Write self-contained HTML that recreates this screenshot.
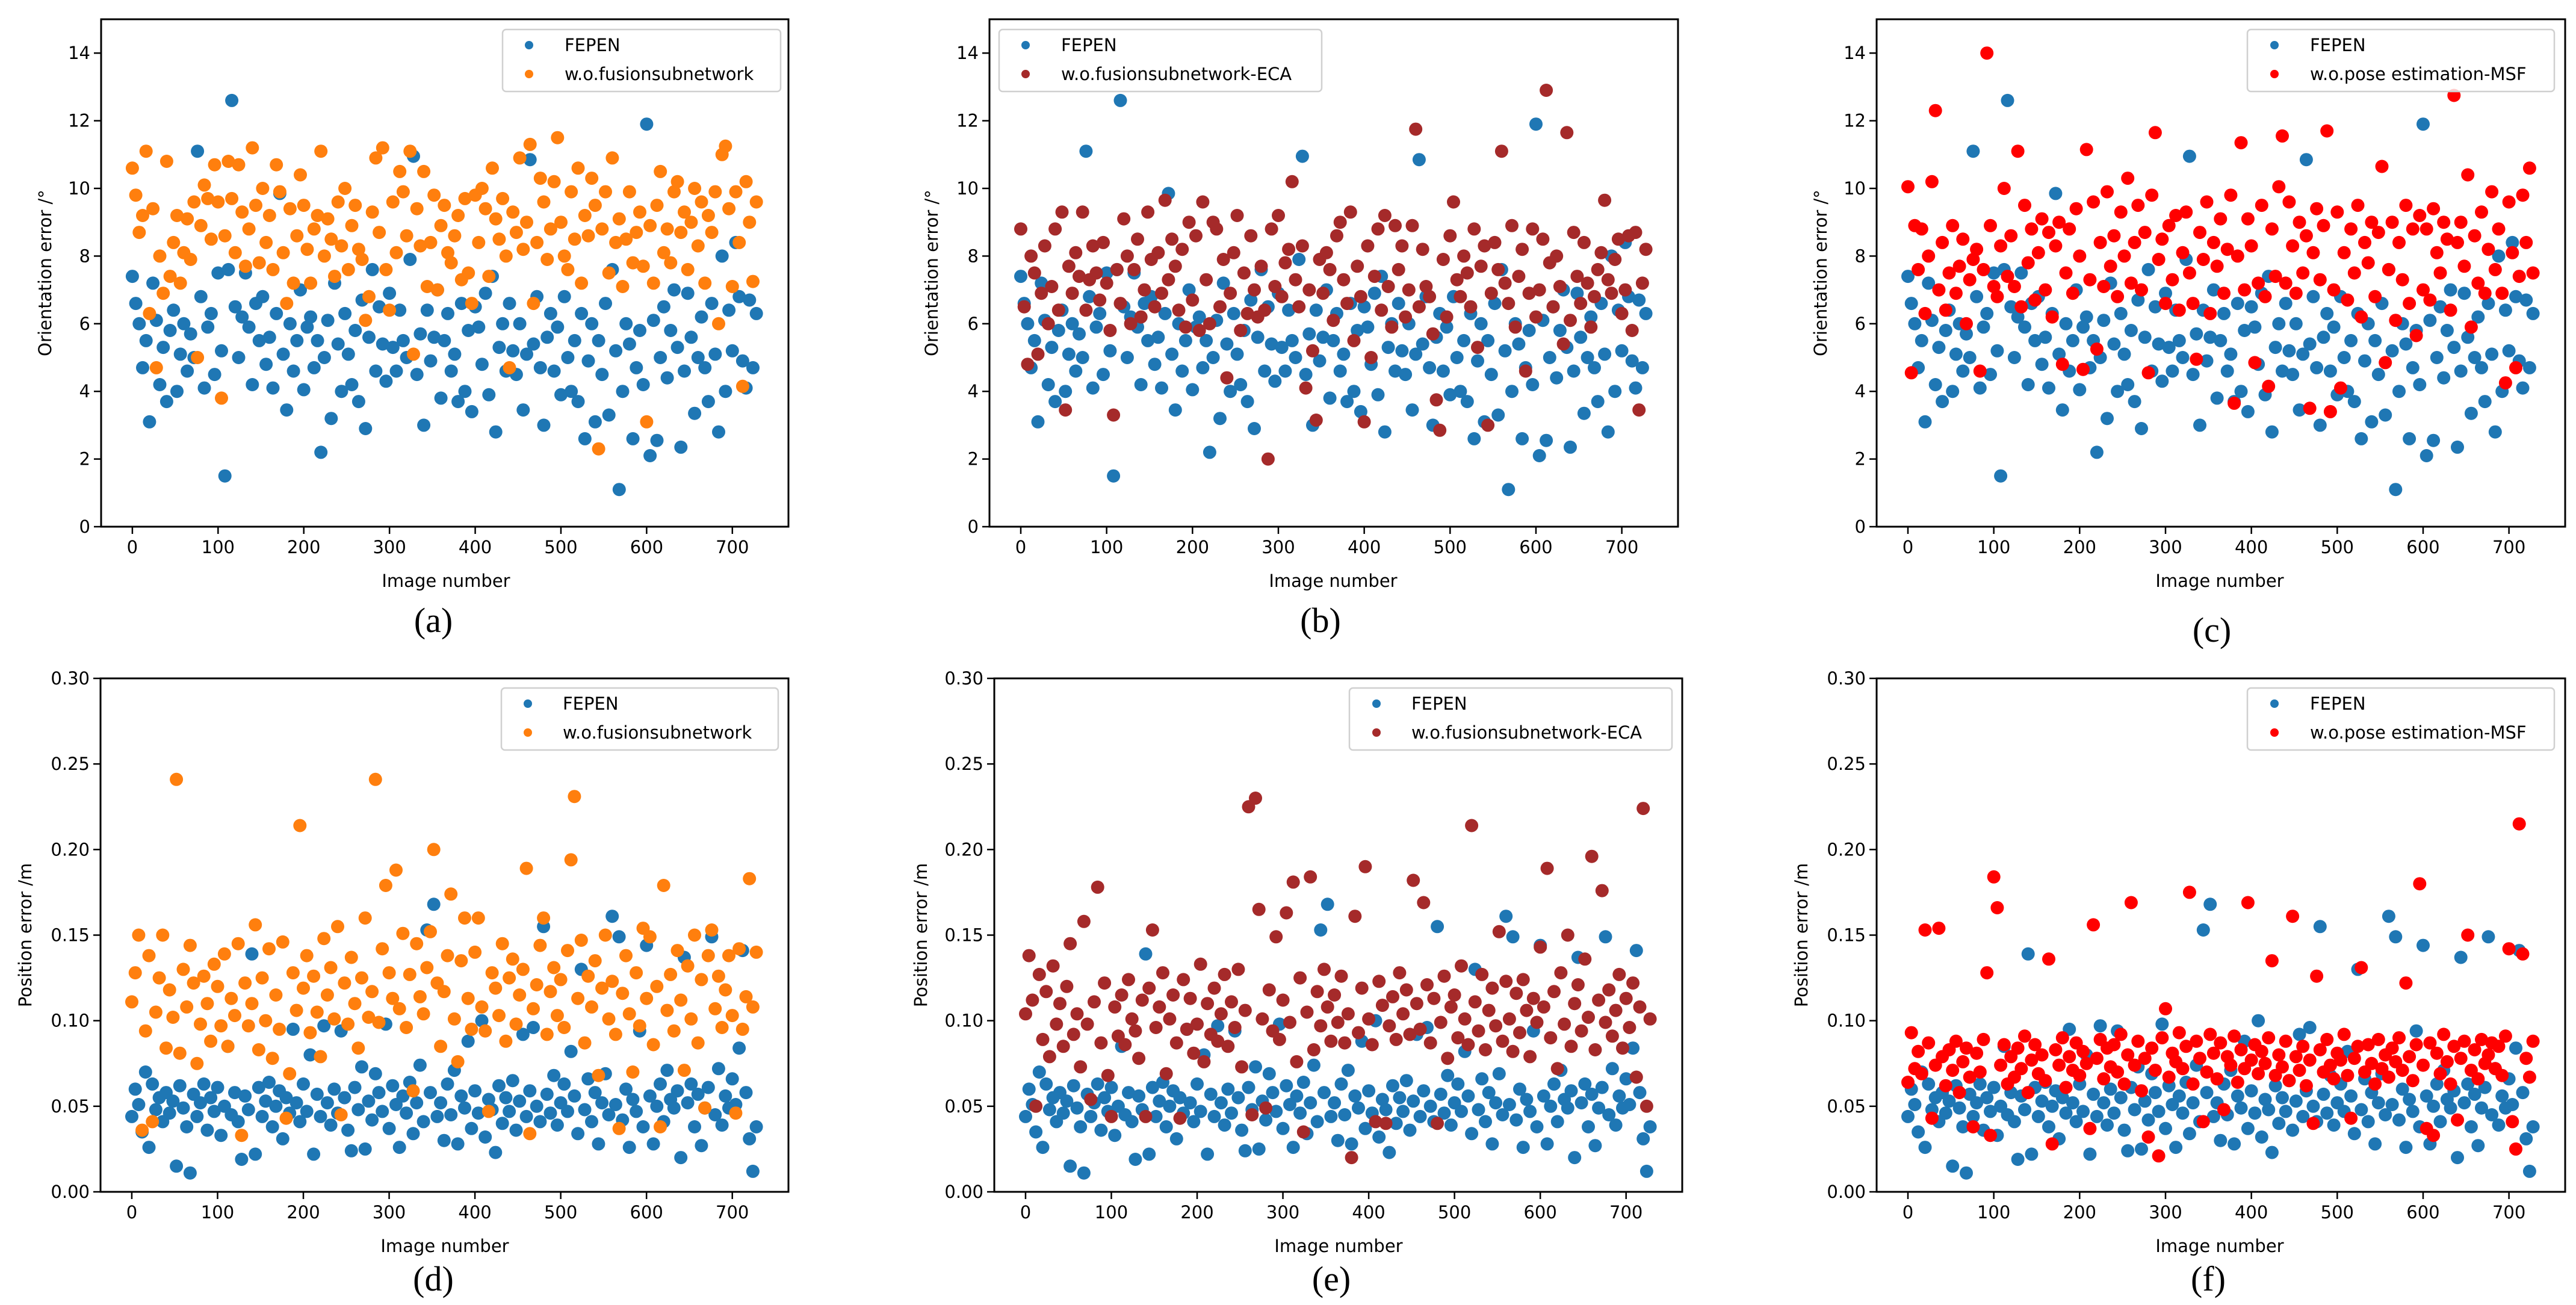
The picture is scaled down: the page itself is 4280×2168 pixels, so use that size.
<!DOCTYPE html>
<html><head><meta charset="utf-8"><style>
html,body{margin:0;padding:0;background:#fff;}
svg{display:block;}
text{font-family:"DejaVu Sans","Liberation Sans",sans-serif;fill:#000;}
.cap{font-family:"Liberation Serif",serif;}
</style></head><body>
<svg id="fig" width="4280" height="2168" viewBox="0 0 4280 2168" xmlns="http://www.w3.org/2000/svg"></svg>
<script>
// Image numbers sampled every 4th image (0..728)
const STEP = 4;
const xTicks = [0,100,200,300,400,500,600,700];
const oriTicks = [0,2,4,6,8,10,12,14];
const posTicks = [0,0.05,0.10,0.15,0.20,0.25,0.30];
const posTickLabels = ["0.00","0.05","0.10","0.15","0.20","0.25","0.30"];

const oriFepen = [7.4,6.6,6.0,4.7,5.5,3.1,7.2,6.1,4.2,5.3,
3.7,5.8,6.4,4.0,5.1,6.0,4.6,5.7,5.0,11.1,
6.8,4.1,5.9,6.3,4.5,7.5,5.2,1.5,7.6,12.6,
6.5,5.0,6.2,7.5,5.9,4.2,6.6,5.5,6.8,4.8,
5.6,4.1,6.3,9.85,5.1,3.45,6.0,4.6,5.5,7.0,
4.05,5.9,6.2,4.7,5.5,2.2,5.0,6.1,3.2,7.2,
5.4,4.0,6.3,5.1,4.2,5.8,3.7,6.7,2.9,5.6,
7.6,4.6,6.5,5.4,4.3,6.9,5.3,4.6,6.4,5.5,
5.0,7.9,10.95,4.5,5.7,3.0,6.4,4.9,5.6,7.0,
3.8,5.5,6.3,4.6,5.1,3.7,6.6,4.0,5.8,3.4,
6.5,5.9,4.8,6.9,3.9,7.4,2.8,5.3,6.0,4.6,
6.6,5.2,4.5,6.0,3.45,5.1,10.85,5.4,6.8,4.7,
3.0,5.6,6.3,4.6,5.9,3.9,6.8,5.0,4.0,5.5,
3.7,6.3,2.6,4.9,6.0,3.1,5.5,4.5,6.6,3.3,
7.6,5.2,1.1,4.0,6.0,5.4,2.6,4.7,5.8,4.2,
11.9,2.1,6.1,2.55,5.0,6.5,4.4,5.8,7.0,5.3,
2.35,4.6,6.9,5.6,3.35,5.0,6.2,4.7,3.7,6.6,
5.1,2.8,8.0,4.0,6.4,5.2,8.4,6.8,4.9,4.1,
6.7,4.7,6.3];

const oriFusion = [10.6,9.8,8.7,9.2,11.1,6.3,9.4,4.7,8.0,6.9,
10.8,7.4,8.4,9.2,7.2,8.1,9.1,7.9,9.6,5.0,
8.9,10.1,9.7,8.5,10.7,9.6,3.8,8.6,10.8,9.7,
8.1,10.7,9.3,7.7,8.8,11.2,9.5,7.8,10.0,8.4,
9.2,7.6,10.7,9.9,8.1,6.6,9.4,7.2,8.6,10.4,
9.5,8.2,7.2,8.8,9.2,11.1,8.0,9.1,8.5,7.4,
9.6,8.3,10.0,7.6,8.9,9.5,8.2,7.9,6.1,6.8,
9.3,10.9,8.7,11.2,7.6,6.4,9.6,8.1,10.5,9.9,
8.6,11.1,5.1,9.4,8.3,10.5,7.1,8.4,9.8,7.0,
8.9,9.5,8.1,7.8,8.6,9.2,7.3,9.7,7.5,6.6,
9.8,8.4,10.0,9.4,7.4,10.6,9.1,8.5,9.7,8.0,
4.7,9.3,8.7,10.9,8.2,9.0,11.3,6.6,8.4,10.3,
9.6,7.9,8.8,10.2,11.5,9.0,8.0,7.6,9.9,8.5,
10.6,7.2,9.2,8.6,10.3,9.5,2.3,8.8,9.9,7.5,
10.9,8.4,9.1,7.1,8.5,9.9,7.8,8.7,9.3,7.7,
3.1,8.9,7.2,9.5,10.5,8.1,8.8,7.8,9.9,10.2,
8.7,9.3,7.6,9.0,10.0,8.3,9.6,7.2,9.2,8.7,
9.9,6.0,11.0,11.25,9.4,7.1,9.9,8.4,4.15,10.2,
9.0,7.25,9.6];

const oriECA = [8.8,6.5,4.8,8.0,7.5,5.1,6.9,8.3,6.0,7.1,
8.8,6.4,9.3,3.45,7.7,6.9,8.1,7.4,9.3,6.4,
7.3,8.3,7.5,6.7,8.4,7.2,5.8,3.3,7.6,6.6,
9.1,8.0,6.0,7.6,8.5,6.2,7.0,9.3,7.9,6.5,
8.1,6.9,9.65,7.3,8.5,7.7,6.4,8.2,5.9,9.0,
6.7,8.6,5.8,9.6,7.3,6.0,9.0,8.8,6.5,7.9,
4.4,6.9,8.1,9.2,5.8,7.5,6.3,8.6,7.0,6.2,
7.7,6.4,2.0,8.8,7.1,9.2,6.8,7.8,8.2,10.2,
7.3,6.5,8.3,4.1,7.0,5.2,3.15,7.9,6.9,8.1,
7.6,6.1,8.6,9.0,7.3,6.6,9.3,5.5,7.7,6.8,
3.1,8.3,5.0,7.4,8.8,6.4,9.2,7.1,5.9,8.9,
7.6,8.3,6.2,7.0,8.9,11.75,6.5,8.2,7.1,6.8,
5.7,3.75,2.85,7.9,6.2,8.6,9.6,7.3,6.8,8.0,
7.5,6.5,8.8,5.3,7.7,8.3,3.0,6.9,8.4,7.6,
11.1,7.2,6.6,8.9,5.9,7.4,8.2,4.6,6.9,8.8,
6.2,7.0,8.5,12.9,7.8,6.5,8.0,7.1,5.4,11.65,
6.1,8.7,7.4,6.6,8.4,7.2,5.9,6.8,7.6,8.1,
9.65,7.3,6.9,7.9,8.5,6.3,7.0,8.6,5.8,8.7,
3.45,7.2,8.2];

const oriMSF = [10.05,4.55,8.9,7.6,8.8,6.3,8.0,10.2,12.3,7.0,
8.4,6.4,7.5,8.9,6.9,7.7,8.5,6.0,7.3,7.9,
8.2,4.6,7.6,14.0,8.9,7.1,6.8,8.3,10.0,7.4,
8.6,7.1,11.1,6.5,9.5,7.8,8.8,6.7,8.1,9.1,
7.0,8.7,6.2,8.3,9.0,4.8,7.5,8.8,6.9,9.4,
8.0,4.65,11.15,7.3,9.6,5.25,8.4,7.1,9.9,7.7,
8.6,6.8,9.3,8.0,10.3,7.2,8.4,9.5,7.0,8.7,
4.55,9.8,11.65,7.9,8.5,6.6,8.9,7.3,9.2,6.4,
8.1,9.3,7.5,6.6,4.95,8.7,7.9,9.6,6.3,8.4,
7.7,9.1,6.9,8.2,9.8,3.65,8.0,11.35,7.0,9.1,
8.3,4.85,7.2,9.5,6.8,4.15,8.8,7.4,10.05,11.55,
7.2,9.6,8.3,6.9,9.0,7.5,8.6,3.5,8.1,9.4,
7.3,8.9,11.7,3.4,7.0,9.3,4.1,8.1,6.7,8.8,
7.5,9.5,6.2,8.4,7.8,9.0,6.8,8.7,10.65,4.85,
7.6,9.0,6.1,8.4,7.3,9.5,6.6,8.8,5.65,9.2,
7.0,8.8,6.7,9.4,8.1,7.5,9.0,8.5,6.4,12.75,
8.4,9.0,7.7,10.4,5.9,8.6,7.2,9.3,6.9,8.2,
9.9,7.6,8.8,6.9,4.25,9.6,8.1,4.7,7.4,9.8,
8.4,10.6,7.5];

const posFepen = [0.044,0.060,0.051,0.035,0.070,0.026,0.063,0.048,0.055,0.041,
0.058,0.046,0.053,0.015,0.062,0.049,0.038,0.011,0.057,0.044,
0.052,0.063,0.036,0.055,0.047,0.061,0.033,0.050,0.085,0.045,
0.058,0.041,0.019,0.056,0.048,0.139,0.022,0.061,0.044,0.053,
0.064,0.038,0.050,0.059,0.031,0.055,0.046,0.095,0.052,0.041,
0.063,0.047,0.080,0.022,0.057,0.044,0.097,0.052,0.039,0.060,
0.046,0.094,0.055,0.036,0.024,0.061,0.048,0.073,0.025,0.053,
0.042,0.069,0.058,0.047,0.098,0.037,0.062,0.051,0.026,0.056,
0.046,0.064,0.034,0.052,0.074,0.041,0.153,0.058,0.168,0.044,
0.052,0.030,0.063,0.045,0.071,0.028,0.056,0.049,0.088,0.037,
0.059,0.046,0.100,0.032,0.054,0.048,0.023,0.062,0.040,0.055,
0.047,0.065,0.036,0.053,0.092,0.044,0.059,0.096,0.050,0.041,
0.155,0.057,0.046,0.068,0.039,0.052,0.063,0.047,0.082,0.056,
0.034,0.130,0.048,0.066,0.041,0.058,0.028,0.052,0.069,0.045,
0.161,0.051,0.149,0.042,0.060,0.026,0.054,0.047,0.094,0.038,
0.144,0.056,0.028,0.050,0.063,0.041,0.071,0.054,0.049,0.059,
0.020,0.137,0.052,0.063,0.038,0.057,0.027,0.049,0.061,0.149,
0.045,0.072,0.039,0.056,0.049,0.066,0.051,0.084,0.141,0.058,
0.031,0.012,0.038];

const posFusion = [0.111,0.128,0.150,0.036,0.094,0.138,0.041,0.105,0.125,0.150,
0.084,0.118,0.102,0.241,0.081,0.130,0.108,0.144,0.122,0.075,
0.098,0.126,0.110,0.088,0.133,0.120,0.097,0.139,0.085,0.113,
0.103,0.145,0.033,0.122,0.097,0.110,0.156,0.083,0.125,0.100,
0.142,0.078,0.115,0.095,0.146,0.043,0.069,0.128,0.106,0.214,
0.119,0.138,0.093,0.126,0.105,0.079,0.148,0.115,0.131,0.101,
0.155,0.045,0.122,0.098,0.137,0.110,0.084,0.125,0.160,0.102,
0.117,0.241,0.099,0.142,0.179,0.128,0.113,0.188,0.107,0.151,
0.096,0.127,0.059,0.145,0.114,0.104,0.131,0.152,0.200,0.122,
0.085,0.117,0.138,0.174,0.101,0.076,0.135,0.160,0.113,0.095,
0.140,0.160,0.108,0.094,0.047,0.128,0.119,0.103,0.145,0.088,
0.125,0.136,0.098,0.115,0.130,0.189,0.034,0.107,0.121,0.144,
0.160,0.092,0.117,0.131,0.103,0.124,0.096,0.141,0.194,0.231,
0.113,0.147,0.087,0.126,0.108,0.135,0.068,0.119,0.150,0.101,
0.123,0.092,0.037,0.116,0.138,0.104,0.070,0.128,0.097,0.154,
0.113,0.149,0.086,0.120,0.038,0.179,0.106,0.127,0.094,0.141,
0.112,0.071,0.132,0.101,0.150,0.087,0.124,0.049,0.138,0.153,
0.107,0.126,0.096,0.118,0.138,0.103,0.046,0.142,0.095,0.114,
0.183,0.108,0.140];

const posECA = [0.104,0.138,0.112,0.050,0.127,0.089,0.117,0.079,0.132,0.098,
0.110,0.085,0.120,0.145,0.092,0.104,0.073,0.158,0.098,0.054,
0.111,0.178,0.087,0.122,0.068,0.044,0.108,0.091,0.115,0.086,
0.124,0.101,0.094,0.078,0.112,0.044,0.119,0.153,0.096,0.108,
0.128,0.069,0.101,0.115,0.087,0.043,0.124,0.095,0.113,0.081,
0.098,0.133,0.076,0.110,0.092,0.119,0.088,0.104,0.127,0.085,
0.111,0.096,0.130,0.073,0.106,0.225,0.045,0.230,0.165,0.101,
0.049,0.118,0.094,0.149,0.089,0.112,0.163,0.099,0.181,0.076,
0.125,0.035,0.105,0.184,0.083,0.117,0.097,0.130,0.108,0.088,
0.115,0.099,0.126,0.087,0.104,0.020,0.161,0.093,0.119,0.190,
0.101,0.086,0.041,0.123,0.109,0.040,0.097,0.114,0.089,0.128,
0.104,0.118,0.092,0.182,0.110,0.095,0.169,0.121,0.087,0.113,
0.040,0.099,0.126,0.078,0.108,0.115,0.090,0.132,0.101,0.086,
0.214,0.111,0.094,0.127,0.083,0.106,0.119,0.097,0.152,0.088,
0.123,0.101,0.082,0.116,0.093,0.124,0.106,0.079,0.113,0.099,
0.143,0.108,0.189,0.090,0.117,0.072,0.128,0.098,0.150,0.085,
0.110,0.121,0.094,0.136,0.102,0.196,0.083,0.112,0.176,0.099,
0.118,0.091,0.106,0.127,0.084,0.113,0.096,0.122,0.067,0.108,
0.224,0.050,0.101];

const posMSF = [0.064,0.093,0.072,0.082,0.069,0.153,0.087,0.043,0.074,0.154,
0.079,0.062,0.083,0.071,0.088,0.058,0.076,0.084,0.067,0.038,
0.081,0.070,0.089,0.128,0.033,0.184,0.166,0.074,0.086,0.063,
0.079,0.067,0.084,0.072,0.091,0.058,0.077,0.086,0.069,0.080,
0.065,0.136,0.028,0.083,0.074,0.090,0.061,0.079,0.071,0.087,
0.068,0.082,0.075,0.037,0.156,0.078,0.089,0.066,0.084,0.073,
0.086,0.070,0.092,0.063,0.080,0.169,0.074,0.088,0.059,0.078,
0.032,0.084,0.071,0.021,0.090,0.107,0.067,0.081,0.076,0.093,
0.072,0.085,0.175,0.063,0.088,0.078,0.041,0.070,0.092,0.081,
0.066,0.087,0.048,0.079,0.074,0.091,0.064,0.083,0.072,0.169,
0.077,0.086,0.069,0.082,0.075,0.090,0.135,0.068,0.080,0.073,
0.088,0.065,0.161,0.079,0.071,0.085,0.062,0.077,0.040,0.126,
0.083,0.070,0.089,0.074,0.066,0.081,0.077,0.092,0.068,0.043,
0.078,0.085,0.131,0.070,0.086,0.075,0.063,0.089,0.072,0.080,
0.067,0.084,0.076,0.090,0.071,0.122,0.079,0.065,0.086,0.180,
0.074,0.037,0.087,0.033,0.081,0.069,0.092,0.076,0.063,0.085,
0.042,0.078,0.088,0.150,0.071,0.083,0.066,0.089,0.075,0.080,
0.087,0.072,0.085,0.068,0.091,0.142,0.041,0.025,0.215,0.139,
0.078,0.067,0.088];

const NS = "http://www.w3.org/2000/svg";
const svg = document.getElementById('fig');
function mk(tag, attrs, parent){
  const e = document.createElementNS(NS, tag);
  for (const k in attrs) e.setAttribute(k, attrs[k]);
  (parent||svg).appendChild(e);
  return e;
}
const BLUE="#1f77b4";
const panels = [
 {id:'a', x0:168,x1:1310,y0:32,y1:875, kind:'ori', other:oriFusion, otherName:'w.o.fusionsubnetwork', color:'#ff7f0e',
  leg:[835,49,1297,152], legMarkX:879, legTextX:938, ylabX:75, xlabX:741, capX:720, capY:1050},
 {id:'b', x0:1644,x1:2788,y0:32,y1:875, kind:'ori', other:oriECA, otherName:'w.o.fusionsubnetwork-ECA', color:'#a52a2a',
  leg:[1660,49,2196,152], legMarkX:1704, legTextX:1763, ylabX:1548, xlabX:2215, capX:2194, capY:1050},
 {id:'c', x0:3118,x1:4262,y0:32,y1:875, kind:'ori', other:oriMSF, otherName:'w.o.pose estimation-MSF', color:'#ff0000',
  leg:[3734,49,4244,152], legMarkX:3779, legTextX:3838, ylabX:3025, xlabX:3688, capX:3675, capY:1066},
 {id:'d', x0:167,x1:1310,y0:1127,y1:1980, kind:'pos', other:posFusion, otherName:'w.o.fusionsubnetwork', color:'#ff7f0e',
  leg:[833,1143,1293,1246], legMarkX:877, legTextX:935, ylabX:42, xlabX:739, capX:720, capY:2144},
 {id:'e', x0:1652,x1:2795,y0:1127,y1:1980, kind:'pos', other:posECA, otherName:'w.o.fusionsubnetwork-ECA', color:'#a52a2a',
  leg:[2242,1143,2778,1246], legMarkX:2287, legTextX:2345, ylabX:1530, xlabX:2224, capX:2212, capY:2144},
 {id:'f', x0:3118,x1:4262,y0:1127,y1:1980, kind:'pos', other:posMSF, otherName:'w.o.pose estimation-MSF', color:'#ff0000',
  leg:[3734,1143,4244,1246], legMarkX:3779, legTextX:3838, ylabX:2993, xlabX:3688, capX:3669, capY:2144}
];
const XMIN=-36.45, XMAX=765.45;
panels.forEach(p=>{
  const g = mk('g',{});
  
  
  const ymax = p.kind==='ori'?15:0.30;
  const xs = v => p.x0 + (v-XMIN)/(XMAX-XMIN)*(p.x1-p.x0);
  const ys = v => p.y1 - v/ymax*(p.y1-p.y0);
  const fep = p.kind==='ori'?oriFepen:posFepen;
  const ticks = p.kind==='ori'?oriTicks:posTicks;
  const tl = p.kind==='ori'?oriTicks.map(String):posTickLabels;
  const clip = mk('clipPath',{id:'clip'+p.id},g);
  mk('rect',{x:p.x0,y:p.y0,width:p.x1-p.x0,height:p.y1-p.y0},clip);
  const pts = mk('g',{'clip-path':'url(#clip'+p.id+')'},g);
  
  
  [[fep,BLUE,'fepen'],[p.other,p.color,'ablation']].forEach(([arr,col,nm])=>{
    const sg = mk('g',{fill:col},pts);
    
    
    arr.forEach((v,i)=>{
      const c = mk('circle',{cx:xs(i*STEP).toFixed(1),cy:ys(v).toFixed(1),r:11},sg);
      
      
    });
  });
  const frame = mk('rect',{x:p.x0,y:p.y0,width:p.x1-p.x0,height:p.y1-p.y0,fill:'none',stroke:'#000','stroke-width':3},g);
  
  
  xTicks.forEach(t=>{
    const x=xs(t);
    mk('line',{x1:x,x2:x,y1:p.y1,y2:p.y1+12,stroke:'#000','stroke-width':2.5},g);
    const tx = mk('text',{x:x,y:p.y1+44,'font-size':29,'text-anchor':'middle'},g);
    tx.textContent=String(t);
    
    
  });
  ticks.forEach((t,i)=>{
    const y=ys(t);
    mk('line',{x1:p.x0-12,x2:p.x0,y1:y,y2:y,stroke:'#000','stroke-width':2.5},g);
    const ty = mk('text',{x:p.x0-18,y:y+10,'font-size':29,'text-anchor':'end'},g);
    ty.textContent=tl[i];
    
    
  });
  const xl = mk('text',{x:p.xlabX,y:p.y1+100,'font-size':29,'text-anchor':'middle'},g);
  xl.textContent='Image number';
  
  
  const cy=(p.y0+p.y1)/2;
  const yl = mk('text',{x:0,y:0,'font-size':29,'text-anchor':'middle',transform:`translate(${p.ylabX+10},${cy}) rotate(-90)`},g);
  yl.textContent = p.kind==='ori'?'Orientation error /°':'Position error /m';
  
  
  const L=p.leg;
  const lg = mk('g',{},g);
  
  
  mk('rect',{x:L[0],y:L[1],width:L[2]-L[0],height:L[3]-L[1],rx:6,fill:'#fff','fill-opacity':0.8,stroke:'#d0d0d0','stroke-width':2.5},lg);
  [[BLUE,'FEPEN',L[1]+26],[p.color,p.otherName,L[1]+74]].forEach(([col,label,yy],k)=>{
    const m = mk('circle',{cx:p.legMarkX,cy:yy,r:7,fill:col},lg);
    
    
    const t = mk('text',{x:p.legTextX,y:yy+10,'font-size':29},lg);
    t.textContent=label;
    
    
  });
  const cap = mk('text',{x:p.capX,y:p.capY,'font-size':58,'text-anchor':'middle','class':'cap'},g);
  cap.textContent='('+p.id+')';
  
  
});
</script>
</body></html>
